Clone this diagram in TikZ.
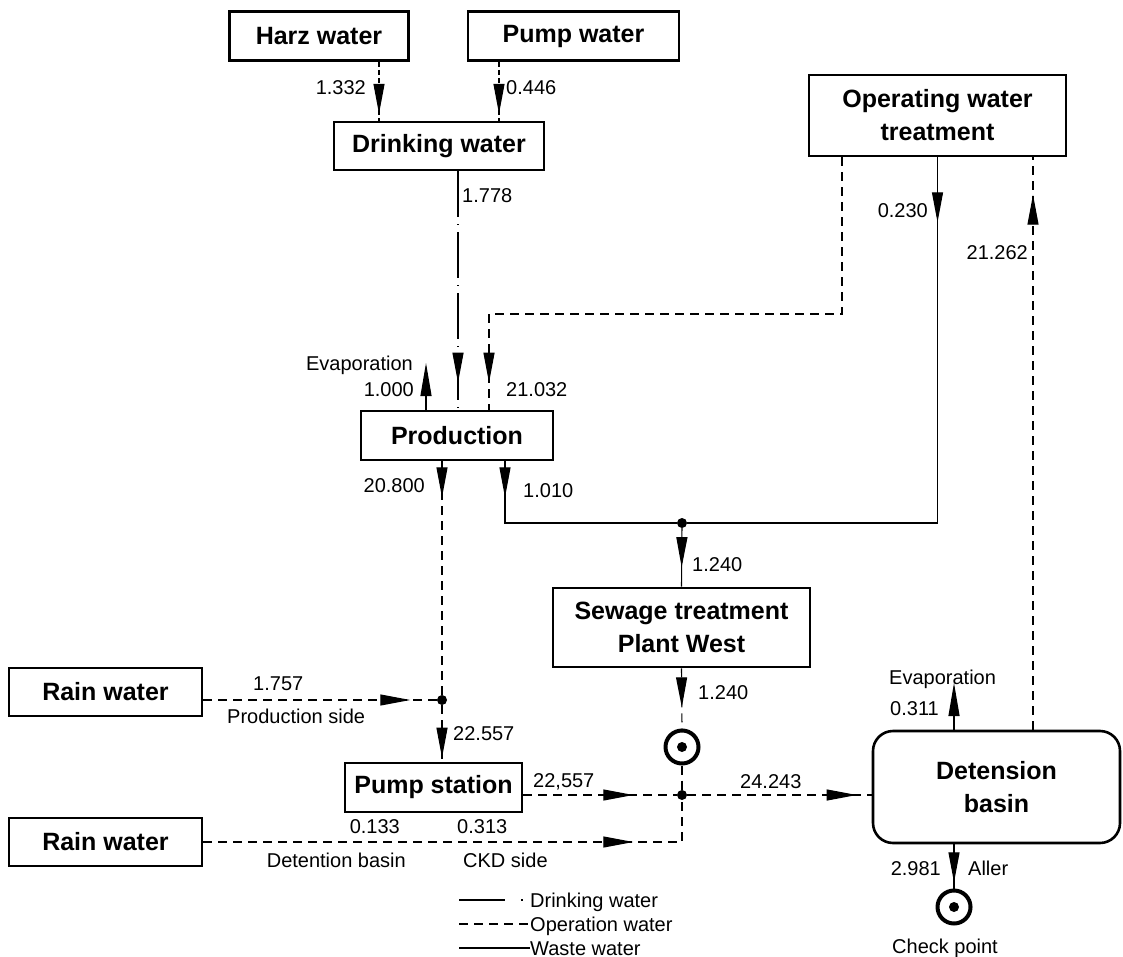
\documentclass[tikz,border=0pt]{standalone}
\usepackage{fontspec}
\setmainfont{Liberation Sans}
\usepackage{xcolor}
\usetikzlibrary{arrows.meta, decorations.markings}
\newcommand\boxfont{\fontsize{25}{33}\selectfont\bfseries}
\newcommand\lblfont{\fontsize{20}{24}\selectfont}
\tikzset{
  unit/.style={draw, line width=2.6pt, font=\boxfont, align=center, inner sep=2pt},
  flow/.style={line width=1.1pt},
  drinkline/.style={flow, dash pattern=on 46pt off 7pt on 1pt off 7pt},
  drinkfine/.style={flow, dash pattern=on 5pt off 3pt},
  opline/.style={flow, dash pattern=on 9pt off 6pt},
  wasteline/.style={flow},
  tipat/.style={postaction={decorate}, decoration={markings,
      mark=at position #1 with {\arrow{Triangle[length=30pt,width=11pt]}}}},
  endtip/.style={-{Triangle[length=33pt,width=11pt]}},
  junc/.style={circle, fill, inner sep=0pt, minimum size=10pt},
  chk/.style={circle, draw, line width=4pt, minimum size=33pt, inner sep=0pt,
      path picture={\fill (path picture bounding box.center) circle (5pt);}},
  lbl/.style={font=\lblfont, inner sep=0pt},
}

\begin{document}
\begin{tikzpicture}[x=1pt, y=-1pt]
  \useasboundingbox (0,0) rectangle (1123,957);

  % boxes
  \node[unit, minimum width=179pt, minimum height=49pt] (harz) at (319,36) {Harz water};
  \node[unit, minimum width=211pt, minimum height=49pt] (pumpw) at (573.5,36) {Pump water};
  \node[unit, minimum width=210pt, minimum height=48pt] (drink) at (439,146) {Drinking water};
  \node[unit, minimum width=257pt, minimum height=81pt] (optreat) at (937.5,115.5) {Operating water\\treatment};
  \node[unit, minimum width=192pt, minimum height=49pt] (prod) at (457,435.5) {Production};
  \node[unit, minimum width=257pt, minimum height=79pt] (sewage) at (681.5,627.5) {Sewage treatment\\Plant West};
  \node[unit, minimum width=193pt, minimum height=48pt] (rainA) at (105.5,692) {Rain water};
  \node[unit, minimum width=177pt, minimum height=49pt] (pumpst) at (433.5,787.5) {Pump station};
  \node[unit, minimum width=193pt, minimum height=48pt] (rainB) at (105.5,842) {Rain water};
  \node[unit, rounded corners=20pt, minimum width=247pt, minimum height=112pt] (basin) at (996.5,787) {Detension\\basin};

  % junctions and check points
  \node[junc] (jA) at (442,700) {};
  \node[junc] (jB) at (682,523) {};
  \node[junc] (jC) at (682,795) {};
  \node[chk] (chkA) at (682,747) {};
  \node[chk] (chkB) at (954,907) {};
  \coordinate (opturn) at (489,314);
  \coordinate (evapA) at (426,363);
  \coordinate (evapB) at (954,683);

  % drinking water
  \draw[drinkfine, tipat=52pt] ([xshift=60pt]harz.south) -- ([xshift=-60pt]drink.north);
  \draw[drinkfine, tipat=52pt] ([xshift=-74.5pt]pumpw.south) -- ([xshift=60pt]drink.north);
  \draw[drinkline, tipat=-27pt] ([xshift=19pt]drink.south) -- ([xshift=1pt]prod.north);

  % operation water
  \draw[opline, tipat=-27pt] ([xshift=-95.5pt]optreat.south) |- (opturn) -- ([xshift=32pt]prod.north);
  \draw[opline, tipat=36pt] ([xshift=-15pt]prod.south) -- (jA);
  \draw[opline, tipat=207pt] ([yshift=-8pt]rainA.east) -- (jA);
  \draw[opline, tipat=-4pt] (jA) -- ([xshift=8.5pt]pumpst.north);
  \draw[opline, tipat=110pt] ([yshift=-7.5pt]pumpst.east) -- (jC);
  \draw[opline, tipat=430pt] (rainB.east) -| (jC);
  \draw[opline, tipat=39pt] (sewage.south) -- (chkA.north);
  \draw[opline] (chkA.south) -- (jC);
  \draw[opline, tipat=-15pt] (jC) -- (basin.west |- jC);
  \draw[opline, tipat=535pt] ([xshift=36.5pt]basin.north) -- ([xshift=95.5pt]optreat.south);

  % waste water
  \draw[wasteline, endtip] ([xshift=-31pt]prod.north) -- (evapA);
  \draw[wasteline, tipat=65pt] (optreat.south) |- (jB);
  \draw[wasteline, tipat=36pt] ([xshift=48pt]prod.south) |- (jB);
  \draw[wasteline, tipat=39pt] (jB) -- (sewage.north);
  \draw[wasteline, endtip] ([xshift=-42.5pt]basin.north) -- (evapB);
  \draw[wasteline, tipat=38pt] ([xshift=-42.5pt]basin.south) -- (chkB.north);

  % flow labels
  \node[lbl, anchor=base east] (lHarz) at (366,95) {1.332};
  \node[lbl, anchor=base west] (lPumpw) at (506,95) {0.446};
  \node[lbl, anchor=base west] (lDrink) at (462,203) {1.778};
  \node[lbl, anchor=base east] (lEvapA) at (413,370) {Evaporation};
  \node[lbl, anchor=base east] (lEvapAv) at (414,396) {1.000};
  \node[lbl, anchor=base west] (lOpProd) at (506,396) {21.032};
  \node[lbl, anchor=base east] (lOpWaste) at (928,218) {0.230};
  \node[lbl, anchor=base east] (lReturn) at (1028,260) {21.262};
  \node[lbl, anchor=base east] (lProdOp) at (425,492) {20.800};
  \node[lbl, anchor=base west] (lProdWaste) at (523,497) {1.010};
  \node[lbl, anchor=base west] (lSewIn) at (692,571) {1.240};
  \node[lbl, anchor=base west] (lSewOut) at (698,699) {1.240};
  \node[lbl, anchor=base west] (lRainA) at (253,690) {1.757};
  \node[lbl, anchor=base west] (lRainAside) at (227,723) {Production side};
  \node[lbl, anchor=base west] (lPumpIn) at (453,740) {22.557};
  \node[lbl, anchor=base west] (lPumpOut) at (533,787) {22,557};
  \node[lbl, anchor=base west] (lBasinIn) at (740,788) {24.243};
  \node[lbl, anchor=base east] (lRainB1) at (400,833) {0.133};
  \node[lbl, anchor=base west] (lRainB2) at (457,833) {0.313};
  \node[lbl, anchor=base east] (lRainBside1) at (406,867) {Detention basin};
  \node[lbl, anchor=base west] (lRainBside2) at (463,867) {CKD side};
  \node[lbl, anchor=base west] (lEvapB) at (889,684) {Evaporation};
  \node[lbl, anchor=base west] (lEvapBv) at (890,715) {0.311};
  \node[lbl, anchor=base east] (lAller) at (941,875) {2.981};
  \node[lbl, anchor=base west] (lAllerName) at (968,875) {Aller};
  \node[lbl, anchor=base] (lCheck) at (945,953) {Check point};

  % legend
  \node[lbl, anchor=base west] (legDrink) at (530,907) {Drinking water};
  \node[lbl, anchor=base west] (legOp) at (530,931) {Operation water};
  \node[lbl, anchor=base west] (legWaste) at (530,955) {Waste water};
  \draw[drinkline, dash pattern=on 46pt off 16pt on 1.5pt off 8pt] (459,900) -- (legDrink.west |- 0,900);
  \draw[opline] (459,924) -- (legOp.west |- 0,924);
  \draw[wasteline] (459,948) -- (legWaste.west |- 0,948);
\end{tikzpicture}
\end{document}
